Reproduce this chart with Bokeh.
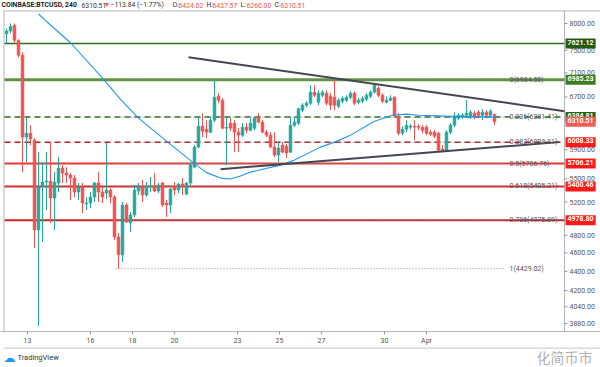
import numpy as np
from bokeh.plotting import figure
from bokeh.layouts import column
from bokeh.models import ColumnDataSource, Label, FixedTicker, Range1d
from bokeh.core.properties import value
from bokeh.embed import file_html
from bokeh.resources import INLINE

# ---------------- data ----------------
opens = [7805, 7853, 7962, 7680, 7408, 6082, 6140, 6038, 4862, 5392, 5458, 5470, 5251, 5445, 5644, 5577,
         5550, 5510, 5327, 5392, 5176, 5188, 5263, 5445, 5327, 5314, 5353, 5263, 4781, 4579, 5163, 4945,
         5041, 5340, 5392, 5289, 5392, 5405, 5340, 5445, 5188, 5163, 5392, 5353, 5431, 5301, 5445, 5657,
         5937, 6245, 6200, 6155, 6336, 6712, 6648, 6215, 6290, 6290, 6155, 6111, 6230, 6185, 6215, 6382,
         6305, 6155, 6111, 5937, 5824, 5966, 5951, 5866, 6260, 6290, 6490, 6568, 6600, 6778, 6616, 6728,
         6761, 6712, 6696, 6552, 6632, 6648, 6696, 6761, 6616, 6632, 6664, 6712, 6778, 6843, 6728, 6616,
         6648, 6696, 6397, 6140, 6200, 6230, 6245, 6245, 6230, 6230, 6155, 6155, 6140, 5909, 5880, 6155,
         6260, 6366, 6382, 6412, 6382, 6443, 6459, 6412, 6459, 6412, 6424.02]
highs = [7905, 8000, 8000, 7700, 7462, 6366, 6260, 6067, 5866, 5726, 5866, 6009, 5590, 5796, 5685, 5657,
         5577, 5550, 5445, 5445, 5263, 5327, 5458, 5590, 5392, 5995, 5379, 5289, 4827, 5201, 5188, 5077,
         5418, 5445, 5484, 5458, 5523, 5577, 5445, 5458, 5226, 5379, 5458, 5445, 5510, 5458, 5712, 5966,
         6382, 6443, 6336, 6382, 6976, 6761, 6680, 6382, 6366, 6336, 6215, 6290, 6290, 6366, 6382, 6443,
         6336, 6185, 6155, 6155, 6009, 6009, 5980, 6382, 6382, 6529, 6600, 6632, 6892, 6892, 6810, 6810,
         6810, 6761, 6980, 6680, 6712, 6728, 6794, 6794, 6680, 6712, 6761, 6810, 6926, 6876, 6761, 6712,
         6728, 6712, 6443, 6245, 6336, 6275, 6336, 6275, 6260, 6260, 6185, 6185, 6155, 5966, 6185, 6290,
         6459, 6443, 6443, 6648, 6490, 6475, 6490, 6505, 6490, 6505, 6437.57]
lows = [7625, 7810, 7643, 7373, 5590, 5726, 5966, 4656, 3858, 4724, 5102, 4945, 4862, 5327, 5445, 5445,
        5226, 5263, 5226, 5065, 5102, 5126, 5201, 5201, 5188, 5238, 5188, 4747, 4429, 4502, 4945, 4839,
        5017, 5289, 5201, 5263, 5327, 5327, 5314, 5138, 5017, 5065, 5289, 5314, 5289, 5289, 5418, 5644,
        5923, 6082, 6067, 6140, 6305, 6600, 6200, 5685, 6170, 5866, 5866, 6082, 6140, 6170, 6185, 6290,
        6140, 6082, 5923, 5796, 5726, 5852, 5782, 5852, 6230, 6260, 6459, 6536, 6568, 6696, 6568, 6696,
        6568, 6490, 6490, 6520, 6600, 6616, 6664, 6568, 6584, 6600, 6632, 6680, 6761, 6696, 6600, 6600,
        6632, 6382, 6111, 6111, 6155, 6200, 6038, 6185, 6140, 6111, 6096, 6067, 5866, 5866, 5866, 6126,
        6230, 6336, 6351, 6382, 6351, 6351, 6366, 6336, 6382, 6397, 6260.00]
closes = [7853, 7943, 7680, 7408, 6082, 6140, 6053, 4862, 5392, 5458, 5470, 5251, 5458, 5644, 5577, 5550,
          5510, 5327, 5392, 5188, 5188, 5263, 5445, 5327, 5263, 5353, 5263, 4781, 4579, 5163, 4956, 5041,
          5353, 5392, 5289, 5405, 5405, 5340, 5418, 5163, 5163, 5366, 5353, 5431, 5392, 5445, 5685, 5937,
          6245, 6170, 6155, 6336, 6696, 6648, 6215, 6230, 6215, 6155, 6111, 6230, 6185, 6290, 6366, 6305,
          6155, 6111, 5937, 5824, 5923, 5866, 5852, 6260, 6305, 6512, 6568, 6600, 6778, 6728, 6761, 6778,
          6600, 6568, 6568, 6648, 6680, 6696, 6761, 6600, 6648, 6680, 6728, 6778, 6892, 6728, 6632, 6648,
          6680, 6397, 6140, 6200, 6260, 6245, 6230, 6230, 6185, 6140, 6126, 6096, 5894, 5880, 6155, 6260,
          6397, 6412, 6412, 6443, 6459, 6382, 6412, 6459, 6412, 6475, 6310.51]

first_day = 12.0          # day of March of the first candle
candles_per_day = 5.25

day_ticks = [13, 16, 18, 20, 23, 25, 27, 30, 32]
day_labels = ["13", "16", "18", "20", "23", "25", "27", "30", "Apr"]

price_ticks = [3880, 4040, 4200, 4400, 4600, 4800, 5200, 5500, 5900, 6700, 7100, 7500, 8000]

# moving average (blue line), candle index -> value
ma_idx = [8, 10, 16, 24, 28.5, 33, 40, 46.5, 50, 53.5, 56, 58.5, 61, 68.5, 72, 78.5, 82, 86, 92, 96.5,
          100, 103, 110, 122.5]
ma_vals = [8184, 8038, 7636, 7010, 6660, 6366, 6023, 5726, 5583, 5510, 5497, 5537, 5590, 5685, 5754,
           5937, 6009, 6111, 6320, 6412, 6428, 6412, 6397, 6382]

# horizontal levels
levels = [7621.12, 6985.23, 6384.81, 6008.33, 5706.21, 5400.46, 4978.80]
level_line_colors = ["#2f6b1e", "#5e9440", "#2e6b1e", "#b22222", "#e53935", "#d03030", "#c62828"]
level_box_colors = ["#245a12", "#3f7d22", "#25651a", "#ff1a1a", "#ff1a1a", "#ff1a1a", "#ff1a1a"]
level_dash = ["solid", "solid", "6 4", "6 4", "solid", "solid", "solid"]
level_width = [1.5, 3, 1.5, 1.5, 2, 2, 2]

# fibonacci retracement
fib_ratios = ["0", "0.236", "0.382", "0.5", "0.618", "0.786", "1"]
fib_prices = [6984.50, 6381.41, 6008.31, 5706.76, 5405.21, 4975.89, 4429.02]

# triangle trend lines (candle index, price)
upper_idx = [45.5, 139.5]
upper_px = [7373, 6475]
lower_idx = [53.5, 138.25]
lower_px = [5630, 6009]

last_price = 6310.51

title_texts = ["COINBASE:BTCUSD, 240", "6310.51", "\u25bc", "\u2212113.84 (\u22121.77%)",
               "O:", "6424.02", "H:", "6437.57", "L:", "6260.00", "C:", "6310.51"]

# ---------------- helpers ----------------
def pos_x(px):      # reference pixel x -> day
    return first_day + (px - 6) / 21.0

def pos_y(py):      # reference pixel y -> price (log scale)
    return 8000 * np.exp(-(py - 23) / 416.0)

def idx_day(i):
    return first_day + np.asarray(i, dtype=float) / candles_per_day

UP = "#26a69a"
DOWN = "#ef5350"
FONT = "Roboto"
GRID = "#b2b5be"

# ---------------- main chart ----------------
n = len(opens)
x = idx_day(np.arange(n))
colors = [UP if c >= o else DOWN for o, c in zip(opens, closes)]
src = ColumnDataSource(dict(
    x=x, high=highs, low=lows,
    top=[max(o, c) for o, c in zip(opens, closes)],
    bottom=[min(o, c) for o, c in zip(opens, closes)],
    color=colors))

p = figure(width=600, height=347,
           x_range=Range1d(pos_x(0), pos_x(600)),
           y_range=Range1d(pos_y(332), pos_y(0)),
           y_axis_type="log", y_axis_location=None,
           output_backend="svg", toolbar_location=None,
           min_border_left=0, min_border_top=0, min_border_right=0, min_border_bottom=15)
p.background_fill_color = "white"
p.border_fill_color = "white"
p.outline_line_color = None
p.grid.visible = False

p.xaxis.ticker = FixedTicker(ticks=day_ticks)
p.xaxis.major_label_overrides = {d: l for d, l in zip(day_ticks, day_labels)}
p.xaxis.major_label_text_font_size = "7px"
p.xaxis.major_label_text_color = "#555555"
p.xaxis.major_label_text_font = FONT
p.xaxis.axis_line_color = GRID
p.xaxis.major_tick_line_color = "#9598a1"
p.xaxis.major_tick_in = 0
p.xaxis.major_tick_out = 3
p.xaxis.minor_tick_line_color = None
p.xaxis.major_label_standoff = 2

# chart borders (top, left) and price-scale separator
p.segment(x0=[pos_x(3), pos_x(3.5), pos_x(564)], y0=[pos_y(10.5), pos_y(10), pos_y(10)],
          x1=[pos_x(600), pos_x(3.5), pos_x(564)], y1=[pos_y(10.5), pos_y(332), pos_y(332)],
          line_color=GRID, line_width=1)

# price scale ticks and labels
p.segment(x0=[pos_x(564)] * len(price_ticks), y0=price_ticks,
          x1=[pos_x(567)] * len(price_ticks), y1=price_ticks, line_color="#9598a1", line_width=1)
p.text(x=[pos_x(569)] * len(price_ticks), y=price_ticks, text=[f"{t:.2f}" for t in price_ticks],
       text_font=value(FONT), text_font_size="7px", text_color="#555555",
       text_baseline="middle", text_align="left")

# levels
for lv, lc, ld, lw in zip(levels, level_line_colors, level_dash, level_width):
    p.segment(x0=[pos_x(4)], y0=[lv], x1=[pos_x(564)], y1=[lv],
              line_color=lc, line_dash=ld, line_width=lw)

# fib dotted lines
fx0 = pos_x(115)
fx1 = pos_x(505)
p.segment(x0=[fx0] * len(fib_prices), y0=fib_prices, x1=[fx1] * len(fib_prices), y1=fib_prices,
          line_color="#8a8a8a", line_width=1, line_dash="1 2")

# candles
p.segment(x0="x", y0="high", x1="x", y1="low", line_color="color", line_width=1, source=src)
p.vbar(x="x", width=0.7 / candles_per_day, top="top", bottom="bottom",
       fill_color="color", line_color="color", line_width=0.6, source=src)

# moving average
p.line(idx_day(ma_idx), ma_vals, line_color="#2196f3", line_width=1.1)

# triangle
p.line(idx_day(upper_idx), upper_px, line_color="#444651", line_width=2)
p.line(idx_day(lower_idx), lower_px, line_color="#444651", line_width=2)

# fib labels
for r, fp in zip(fib_ratios, fib_prices):
    p.add_layout(Label(x=pos_x(509), y=fp, text=f"{r}({fp:.2f})", text_font_size="7px",
                       text_font=FONT, text_color="#555555", text_baseline="middle",
                       text_align="left"))

# price boxes on the price scale
for lv, bc in zip(levels + [last_price], level_box_colors + ["#ef5d57"]):
    p.add_layout(Label(x=pos_x(565), y=lv, text=f"{lv:.2f}", text_font_size="7px",
                       text_font=FONT, text_color="white", text_font_style="bold",
                       text_baseline="middle", text_align="left",
                       background_fill_color=bc, padding=(2, 2, 1, 4)))

# title line (legend of the series)
title_x = [1, 81, 103, 110, 172, 178, 206, 212, 240, 246, 274, 280]
title_col = ["#222222", "#333333", DOWN, "#333333", "#333333", DOWN, "#333333", DOWN,
             "#333333", DOWN, "#333333", DOWN]
title_style = ["bold"] + ["normal"] * 11
tsrc = ColumnDataSource(dict(x=[pos_x(v) for v in title_x], y=[pos_y(5)] * len(title_x),
                             text=title_texts, color=title_col, style=title_style))
p.text(x="x", y="y", text="text", text_color="color", text_font_style="style", source=tsrc,
       text_font=value(FONT), text_font_size="6.8px", text_baseline="middle", text_align="left")

# ---------------- bottom strip (logo + watermark) ----------------
bf = figure(width=600, height=20, x_range=Range1d(0, 600), y_range=Range1d(20, 0),
            output_backend="svg", toolbar_location=None, x_axis_location=None, y_axis_location=None,
            min_border_left=0, min_border_right=0, min_border_top=0, min_border_bottom=0)
bf.outline_line_color = None
bf.grid.visible = False
bf.segment(x0=[3], y0=[0.5], x1=[600], y1=[0.5], line_color=GRID, line_width=1)
bf.text(x=[3], y=[10], text=["\u2601"], text_font=value("DejaVu Sans"), text_font_size="12px",
        text_color="#2196f3", text_baseline="middle", text_align="left")
bf.text(x=[17], y=[10], text=["TradingView"], text_font=value(FONT), text_font_size="7.5px",
        text_color="#333333", text_baseline="middle", text_align="left")
bf.text(x=[536], y=[9], text=["化简币市"], text_font=value("Noto Sans CJK SC"), text_font_size="14px",
        text_color="#9a9a9a", text_alpha=0.8, text_baseline="middle", text_align="left")

layout = column(p, bf, spacing=0)
open("out.html", "w").write(file_html(layout, INLINE))
